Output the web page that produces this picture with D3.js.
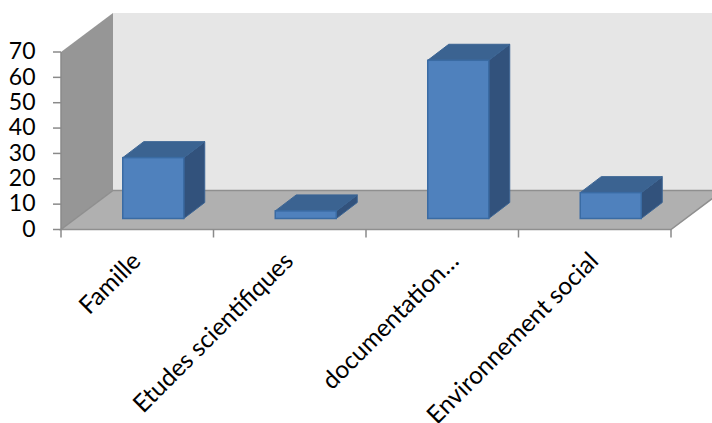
<!DOCTYPE html>
<html>
<head>
<meta charset="utf-8">
<script src="https://cdnjs.cloudflare.com/ajax/libs/d3/7.8.5/d3.min.js"></script>
<style>
html,body{margin:0;padding:0;background:#fff;overflow:hidden}
text{font-family:Lato,"Open Sans",sans-serif;fill:#000}
</style>
</head>
<body>
<svg id="chart" width="712" height="423"></svg>
<script>
const categories = ["Famille", "Etudes scientifiques", "documentation…", "Environnement social"];
const values = [24, 3, 62.4, 10.2];
const yTicks = [0, 10, 20, 30, 40, 50, 60, 70];

const svg = d3.select("#chart");
const x = d3.scaleBand().domain(categories).range([61, 671]);
const y = d3.scaleLinear().domain([0, 70]).range([229.5, 52]);

// Oblique projection of the chart box and of each bar's depth
const wallDx = 52, wallDy = -39;
const barOffX = 16, barOffY = -11;
const barDx = 21, barDy = -16;
const barWidth = 61;
const poly = pts => pts.map(p => p.join(",")).join(" ");

const x0 = x.range()[0], x1 = x.range()[1], yb = y(0), yt = y(70);

// Back wall
svg.append("polygon")
  .attr("points", poly([[x0+wallDx, yt+wallDy], [712, yt+wallDy], [712, yb+wallDy], [x0+wallDx, yb+wallDy]]))
  .attr("fill", "#e6e6e6");

// Side wall
svg.append("polygon")
  .attr("points", poly([[x0, yt], [x0+wallDx, yt+wallDy], [x0+wallDx, yb+wallDy], [x0, yb]]))
  .attr("fill", "#969696");

// Floor
svg.append("polygon")
  .attr("points", poly([[x0, yb], [x1, yb], [x1+wallDx, yb+wallDy], [x0+wallDx, yb+wallDy]]))
  .attr("fill", "#b0b0b0")
  .attr("stroke", "#8f8f8f")
  .attr("stroke-width", 1.5);

// Vertical axis line, ticks and labels
svg.append("line")
  .attr("x1", x0).attr("x2", x0).attr("y1", yt).attr("y2", yb)
  .attr("stroke", "#8a8a8a").attr("stroke-width", 1.5);
const yGroup = svg.selectAll(".ytick").data(yTicks).enter().append("g").attr("class", "ytick");
yGroup.append("line")
  .attr("x1", x0 - 8).attr("x2", x0)
  .attr("y1", d => y(d)).attr("y2", d => y(d))
  .attr("stroke", "#8a8a8a").attr("stroke-width", 1.5);
yGroup.append("text")
  .attr("x", 35.5).attr("y", d => y(d) + 1.5)
  .attr("text-anchor", "end").attr("dominant-baseline", "middle")
  .attr("font-size", 23)
  .text(d => d);

// Category ticks along the front edge of the floor
const tickPositions = categories.map(c => x(c)).concat([x1]);
svg.selectAll(".xtick").data(tickPositions).enter().append("line")
  .attr("class", "xtick")
  .attr("x1", d => d).attr("x2", d => d)
  .attr("y1", yb).attr("y2", yb + 8)
  .attr("stroke", "#8a8a8a").attr("stroke-width", 1.5);

// Bars: side, top and front faces
const bars = svg.selectAll(".bar").data(categories.map((c, i) => ({c, v: values[i]}))).enter()
  .append("g").attr("class", "bar");
const left = d => x(d.c) + (x.bandwidth() - barWidth) / 2 + barOffX;
const top_ = d => y(d.v) + barOffY;
const base = yb + barOffY;

bars.append("polygon")
  .attr("points", d => poly([
    [left(d)+barWidth, top_(d)], [left(d)+barWidth+barDx, top_(d)+barDy],
    [left(d)+barWidth+barDx, base+barDy], [left(d)+barWidth, base]]))
  .attr("fill", "#32527c").attr("stroke", "#3c6594").attr("stroke-width", 1);
bars.append("polygon")
  .attr("points", d => poly([
    [left(d), top_(d)], [left(d)+barDx, top_(d)+barDy],
    [left(d)+barWidth+barDx, top_(d)+barDy], [left(d)+barWidth, top_(d)]]))
  .attr("fill", "#3b6391").attr("stroke", "#3c6594").attr("stroke-width", 1);
bars.append("rect")
  .attr("x", left).attr("y", top_)
  .attr("width", barWidth).attr("height", d => base - top_(d))
  .attr("fill", "#4f81bd").attr("stroke", "#3a6ba3").attr("stroke-width", 1.5);

// Rotated category labels; a truncated label sits further along its slot
const labelShift = d => d.endsWith("…") ? 24 : 11;
svg.selectAll(".xlabel").data(categories).enter().append("text")
  .attr("class", "xlabel")
  .attr("text-anchor", "end")
  .attr("font-size", 24.5)
  .attr("transform", d => `translate(${x(d) + x.bandwidth()/2 - 6 + labelShift(d)},${yb + 33}) rotate(-45)`)
  .text(d => d);
</script>
</body>
</html>
